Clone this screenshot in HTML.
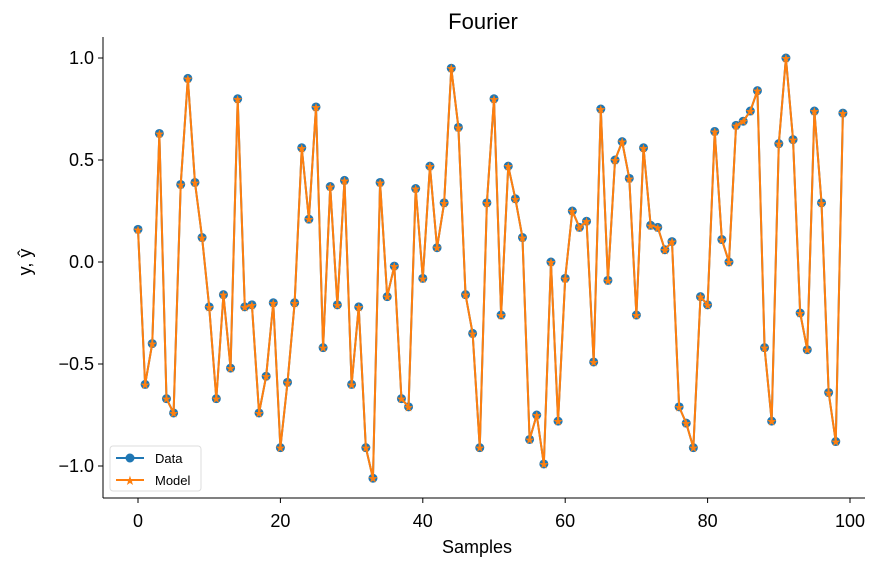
<!DOCTYPE html>
<html><head><meta charset="utf-8"><style>
body{margin:0;background:#fff;}
svg{display:block;font-family:"Liberation Sans","DejaVu Sans",sans-serif;}
</style></head><body>
<svg width="888" height="567" viewBox="0 0 888 567">
<text x="483" y="29" font-size="22" text-anchor="middle">Fourier</text>
<g id="axes"></g>
<g id="series"></g>
<text x="477" y="553" font-size="18" text-anchor="middle">Samples</text>
<text transform="translate(31,262) rotate(-90)" font-size="18" text-anchor="middle">y, ŷ</text>
<g>
<rect x="110" y="446" width="91" height="45" rx="3" fill="#fff" stroke="#ddd"/>
<g>
<line x1="116" y1="458" x2="144" y2="458" stroke="#1f77b4" stroke-width="2"/>
<circle cx="130" cy="458" r="4.5" fill="#1f77b4"/>
<text x="155" y="463" font-size="13">Data</text></g>
<g>
<line x1="116" y1="480" x2="144" y2="480" stroke="#ff7f0e" stroke-width="2"/>
<text x="130" y="485" font-size="13" fill="#ff7f0e" text-anchor="middle">★</text>
<text x="155" y="485" font-size="13">Model</text></g>
</g>
</svg>
<script>
const samples = Array.from({length:100},(_,i)=>i);
const dataValues = [0.16,-0.60,-0.40,0.63,-0.67,-0.74,0.38,0.90,0.39,0.12,
-0.22,-0.67,-0.16,-0.52,0.80,-0.22,-0.21,-0.74,-0.56,-0.20,
-0.91,-0.59,-0.20,0.56,0.21,0.76,-0.42,0.37,-0.21,0.40,
-0.60,-0.22,-0.91,-1.06,0.39,-0.17,-0.02,-0.67,-0.71,0.36,
-0.08,0.47,0.07,0.29,0.95,0.66,-0.16,-0.35,-0.91,0.29,
0.80,-0.26,0.47,0.31,0.12,-0.87,-0.75,-0.99,0.00,-0.78,
-0.08,0.25,0.17,0.20,-0.49,0.75,-0.09,0.50,0.59,0.41,
-0.26,0.56,0.18,0.17,0.06,0.10,-0.71,-0.79,-0.91,-0.17,
-0.21,0.64,0.11,0.00,0.67,0.69,0.74,0.84,-0.42,-0.78,
0.58,1.00,0.60,-0.25,-0.43,0.74,0.29,-0.64,-0.88,0.73];
const modelValues = dataValues.slice();
const xTicks = [0,20,40,60,80,100];
const yTicks = [-1.0,-0.5,0.0,0.5,1.0];
const yTickLabels = ["−1.0","−0.5","0.0","0.5","1.0"];

const NS="http://www.w3.org/2000/svg";
const xs = v => 138 + v*7.12;
const ys = v => 262 - v*204;
function mk(tag, attrs, parent){const e=document.createElementNS(NS,tag);for(const k in attrs)e.setAttribute(k,attrs[k]);parent.appendChild(e);return e;}
const axes=document.getElementById('axes'), series=document.getElementById('series');
let e;
e=mk('line',{x1:103,y1:37,x2:103,y2:498,stroke:'#000','stroke-width':1},axes);


e=mk('line',{x1:103,y1:498,x2:865,y2:498,stroke:'#000','stroke-width':1},axes);


xTicks.forEach(t=>{
  mk('line',{x1:xs(t),y1:498,x2:xs(t),y2:503,stroke:'#000'},axes);
  e=mk('text',{x:xs(t),y:527,'font-size':18,'text-anchor':'middle'},axes);
  e.textContent=t;
  
  
});
yTicks.forEach((t,i)=>{
  mk('line',{x1:98,y1:ys(t),x2:103,y2:ys(t),stroke:'#000'},axes);
  e=mk('text',{x:94,y:ys(t)+6,'font-size':18,'text-anchor':'end'},axes);
  e.textContent=yTickLabels[i];
  
  
});
const pts = a => a.map((v,i)=>xs(samples[i])+','+ys(v)).join(' ');
e=mk('polyline',{points:pts(dataValues),fill:'none',stroke:'#1f77b4','stroke-width':2},series);


dataValues.forEach((v,i)=>{
  e=mk('circle',{cx:xs(samples[i]),cy:ys(v),r:4.5,fill:'#1f77b4'},series);
  
  
});
e=mk('polyline',{points:pts(modelValues),fill:'none',stroke:'#ff7f0e','stroke-width':2},series);


modelValues.forEach((v,i)=>{
  e=mk('text',{x:xs(samples[i]),y:ys(v)+4.5,'font-size':12,fill:'#ff7f0e','text-anchor':'middle'},series);
  e.textContent='★';
  
  
});
</script>
</body></html>
